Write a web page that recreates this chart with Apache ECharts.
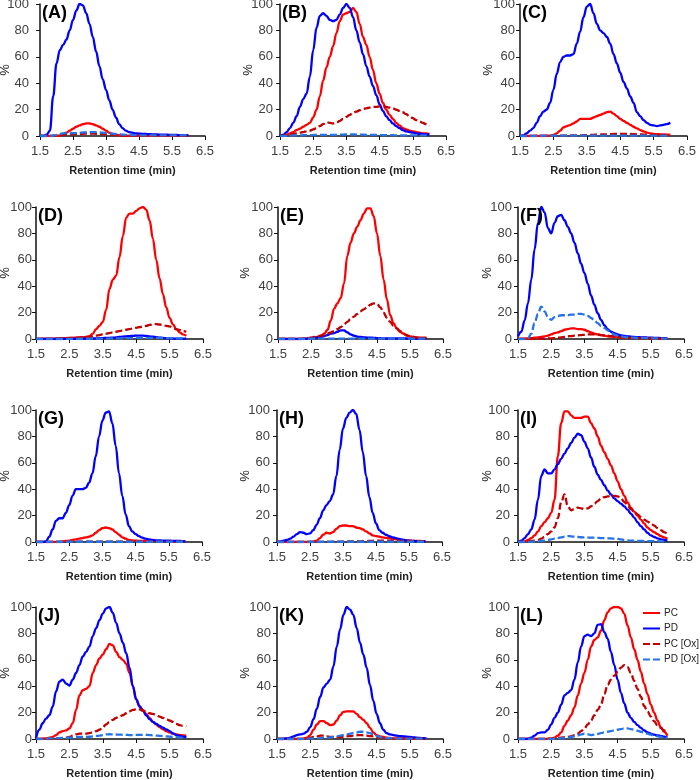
<!DOCTYPE html>
<html><head><meta charset="utf-8">
<script src="https://cdn.jsdelivr.net/npm/echarts@6/dist/echarts.min.js"></script>
<style>html,body{margin:0;padding:0;background:#fff}#c{width:700px;height:780px}</style>
</head><body><div id="c"></div>
<script>
// Retention time grid (min)
const rt = [1.5,1.6,1.7,1.8,1.9,2.0,2.1,2.2,2.3,2.4,2.5,2.6,2.7,2.8,2.9,3.0,3.1,3.2,3.3,3.4,3.5,3.6,3.7,3.8,3.9,4.0,4.1,4.2,4.3,4.4,4.5,4.6,4.7,4.8,4.9,5.0,5.1,5.2,5.3,5.4,5.5,5.6,5.7,5.8,5.9,6.0];
const xTicks = [1.5,2.5,3.5,4.5,5.5,6.5];
const yTicks = [0,20,40,60,80,100];
const seriesNames = ['PC','PD','PC [Ox]','PD [Ox]'];
const panelLabels = ['(A)','(B)','(C)','(D)','(E)','(F)','(G)','(H)','(I)','(J)','(K)','(L)'];

// Panel A
const pcA   = [0,0,0,0,0, 0.2,0.4,1,2.5,4, 5.5,7,8,9,9.5, 9.5,9,8,7,5.5, 4,2.5,1.5,1,0.6, 0.4,0.3,0.3,0.3,0.3, 0.3,0.3,0.3,0.3,0.3, 0.3,0.3,0.3,0.3,0.3, 0.3,0.3,0.3,0.3,0.3, 0.3];
const pdA   = [0,0,1,4,30, 55,65,69,73,80, 88,95,100,99,93, 85,75,64,53,43, 35,27,20,14,9, 6,4,3,2.5,2, 1.8,1.6,1.5,1.4,1.3, 1.2,1.1,1,1,0.9, 0.8,0.8,0.7,0.7,0.6, 0.5];
const pcoxA = [0,0,0,0,0.2, 0.5,0.8,1,1.2,1.3, 1.4,1.5,1.6,1.7,1.8, 1.8,1.8,1.7,1.6,1.5, 1.3,1.1,0.9,0.7,0.5, 0.4,0.3,0.3,0.3,0.3, 0.3,0.3,0.3,0.3,0.3, 0.3,0.3,0.3,0.3,0.3, 0.3,0.3,0.3,0.3,0.3, 0.3];
const pdoxA = [0,0,0,0,0.3, 0.8,1.5,2,2.2,2.2, 2.2,2.3,2.5,2.7,2.9, 3,3,2.9,2.7,2.5, 2.3,2,1.8,1.5,1.3, 1.1,0.9,0.8,0.7,0.6, 0.5,0.5,0.5,0.5,0.5, 0.5,0.5,0.5,0.5,0.5, 0.5,0.5,0.5,0.5,0.5, 0.5];
// Panel B
const pcB   = [0,0,1,2,3, 4.5,5.5,7,8.5,10, 14,20,30,42,52, 60,68,78,87,92, 93,94,97,94,85, 75,69,60,50,40, 32,25,20,16,13, 10,8,6,5,4, 3.5,3,2.5,2,2, 1.5];
const pdB   = [0,1,3,6,10, 15,22,28,32,45, 65,82,91,93,91, 88,87,88,92,97, 100,97,90,80,71, 62,53,45,38,31, 24,19,15,12,9.5, 7.5,6,4.5,3.5,3, 2.5,2,1.7,1.4,1.2, 1];
const pcoxB = [0,0.3,0.6,1,1.5, 2,2.5,3,3.5,4, 5,6,7.5,9,10.5, 10,9.5,10,11.5,13, 14.5,16,17.5,18.5,19.5, 20.5,21,21.5,22,22, 22.5,22.5,22,21.5,21, 20,19,18,16.5,15, 13.5,12,11,10,9, 7.5];
const pdoxB = [0,0,0.2,0.3,0.4, 0.5,0.5,0.6,0.6,0.7, 0.7,0.8,0.8,0.8,0.8, 0.8,0.8,0.9,1,1.1, 1.2,1.2,1.2,1.1,1, 1,0.9,0.9,0.8,0.8, 0.7,0.7,0.6,0.6,0.6, 0.5,0.5,0.5,0.5,0.5, 0.5,0.5,0.5,0.5,0.5, 0.5];
// Panel C
const pcC   = [0,0,0,0,0, 0,0,0,0.2,0.3, 0.8,2,4,6.5,7.5, 8.3,9.6,11,13,13, 13,13,14,15,16, 17,18,18.4,17,15, 13,11.5,10,8.5,7, 5.8,4.5,3.5,2.5,2, 1.6,1.4,1.3,1.2,1.1, 1];
const pdC   = [0,0.5,2,4,6, 10,15,18.5,20,25, 35,47,56,60,61, 61,62,70,79,90, 98,100,93,85,80, 78,75,70,62,55, 48,41,36,30,25, 18,15,12,10,8.5, 8,7.5,8,8.5,9, 10];
const pcoxC = [0,0,0,0,0, 0,0,0,0,0, 0.1,0.2,0.2,0.3,0.3, 0.4,0.4,0.5,0.5,0.6, 0.7,0.8,0.9,1,1.1, 1.2,1.3,1.4,1.5,1.5, 1.5,1.5,1.5,1.5,1.4, 1.3,1.2,1.1,1,0.9, 0.8,0.7,0.7,0.6,0.6, 0.5];
const pdoxC = [0,0,0,0,0.1, 0.2,0.2,0.3,0.3,0.3, 0.3,0.3,0.3,0.3,0.3, 0.3,0.3,0.3,0.3,0.3, 0.3,0.3,0.3,0.3,0.3, 0.3,0.3,0.3,0.3,0.3, 0.3,0.3,0.3,0.3,0.3, 0.3,0.3,0.3,0.3,0.3, 0.3,0.3,0.3,0.3,0.3, 0.3];
// Panel D
const pcD   = [0.1,0.1,0.2,0.2,0.3, 0.3,0.4,0.5,0.6,0.7, 0.8,0.9,1,1.1,1.3, 1.5,2,4,7.5,10, 13,22,38,45,48, 62,78,92,95,95, 97,99,100,98,90, 76,60,46,34,24, 16,11,7.5,5,3.5, 2.5];
const pdD   = [0,0,0,0,0, 0,0,0,0,0.1, 0.1,0.1,0.2,0.2,0.2, 0.3,0.3,0.4,0.5,0.6, 0.7,0.8,0.9,1,1.2, 1.5,1.8,2,2.2,2.4, 2.5,2.5,2.5,2.3,2, 1.7,1.4,1.1,0.8,0.6, 0.5,0.4,0.3,0.3,0.3, 0.3];
const pcoxD = [0,0,0,0,0, 0.2,0.3,0.4,0.5,0.6, 0.7,0.8,1,1.2,1.4, 1.5,1.7,2,2.5,3, 3.5,4,4.5,5,5.5, 6,6.5,7,7.5,8, 8.5,9,9.5,10,10.7, 11.2,11.3,11,10.5,10, 9.5,8.5,7.5,6.8,6, 5.5];
const pdoxD = [0,0,0,0,0, 0,0,0,0,0.1, 0.1,0.1,0.1,0.2,0.2, 0.2,0.2,0.3,0.3,0.3, 0.3,0.3,0.4,0.4,0.5, 0.5,0.6,0.6,0.7,0.7, 0.8,0.8,0.8,0.8,0.8, 0.8,0.8,0.8,0.7,0.7, 0.6,0.5,0.5,0.4,0.4, 0.3];
// Panel E
const pcE   = [0,0,0,0,0, 0,0,0.1,0.2,0.3, 0.5,1,1.5,2.5,4, 7,14,23,27,31, 42,63,73,80,85, 90,95,99,99,93, 80,63,45,30,18, 12,8,5.5,4,2.5, 2,1.5,1.2,1,1, 1];
const pdE   = [0,0,0,0,0, 0,0,0,0,0.5, 0.8,1,1.2,1.5,2.2, 3,4,4.5,5.5,6.5, 6.5,5,3.5,2.5,1.8, 1.5,1.3,1.1,1,0.9, 0.7,0.6,0.5,0.5,0.5, 0.5,0.4,0.4,0.4,0.4, 0.3,0.3,0.3,0.3,0.3, 0.3];
const pcoxE = [0,0,0,0,0, 0,0,0,0.5,0.7, 1,1.5,2,2.5,3, 4,5,6,7.5,9, 11,13,15,17,19, 21,22.5,24,26,27, 26.5,24,20,16,13, 10,8,6,4,3, 2,1.5,1,0.8,0.6, 0.5];
const pdoxE = [0,0,0,0,0, 0,0,0,0.1,0.2, 0.2,0.3,0.3,0.3,0.3, 0.3,0.3,0.3,0.3,0.3, 0.3,0.3,0.3,0.3,0.3, 0.3,0.3,0.3,0.3,0.3, 0.3,0.3,0.3,0.3,0.3, 0.3,0.3,0.3,0.3,0.3, 0.3,0.3,0.3,0.3,0.3, 0.3];
// Panel F
const pcF   = [0,0.2,0.3,0.5,0.7, 1,1.2,1.5,2,2.5, 3.5,4.5,5,6,7, 7.5,8,8,7.5,7.5, 7,6,5,4,3.5, 3,2.5,2,1.8,1.6, 1.5,1.3,1.2,1.1,1, 1,0.9,0.8,0.8,0.7, 0.7,0.6,0.6,0.5,0.5, 0.5];
const pdF   = [2,5.5,14,27,45, 68,88,100,96,84, 80,88,93,94,90, 85,80,73,65,57, 50,42,33,26,19.5, 14.5,10.5,7.5,5.5,4.5, 3.5,2.8,2.3,2,1.8, 1.5,1.4,1.3,1.2,1.1, 1,0.9,0.8,0.7,0.6, 0.5];
const pcoxF = [0,0,0,0,0, 0,0,0.2,0.3,0.4, 0.5,0.7,1,1.2,1.5, 2,2.2,2.5,2.7,3, 3.2,3.5,3.5,3.5,3.3, 3,2.8,2.5,2.2,2, 1.5,1.3,1.1,1,0.8, 0.7,0.6,0.6,0.5,0.5, 0.5,0.4,0.4,0.3,0.3, 0.3];
const pdoxF = [0,0,0,0.5,4, 12,19,24.5,21,16.5, 14.5,16.5,17.5,18,18, 18,18.5,18.5,19,19, 18.5,17.5,16,14,12, 10,8.5,6.5,4.5,3.5, 2.5,2,1.5,1.2,1, 1,0.9,0.8,0.7,0.6, 0.5,0.5,0.4,0.4,0.3, 0.3];
// Panel G
const pcG   = [0,0,0,0,0, 0,0,0,0.5,0.8, 1,1.5,2,2.5,3, 3.5,4,5,7,9, 10.5,11,10.5,9.5,7.5, 5.5,3.5,2.5,1.5,1.2, 1,0.9,0.9,0.8,0.8, 0.8,0.7,0.7,0.7,0.6, 0.6,0.6,0.5,0.5,0.5, 0.5];
const pdG   = [0,0,0,0.5,4, 9.5,16,18,18,22, 28,35,40,40,40, 41,45,52,65,80, 92,98,99,90,73, 52,35,21,12,8, 6,4.5,3.3,2.5,2, 1.5,1.3,1.2,1.1,1.1, 1,0.9,0.9,0.8,0.7, 0.5];
const pcoxG = [0,0,0,0,0, 0,0,0,0,0.1, 0.1,0.1,0.2,0.2,0.2, 0.3,0.3,0.3,0.3,0.3, 0.3,0.3,0.3,0.3,0.3, 0.3,0.3,0.3,0.3,0.3, 0.3,0.3,0.3,0.3,0.3, 0.3,0.3,0.3,0.3,0.3, 0.3,0.3,0.3,0.3,0.3, 0.3];
const pdoxG = [0,0,0,0,0.1, 0.2,0.2,0.2,0.2,0.2, 0.2,0.2,0.2,0.2,0.2, 0.2,0.2,0.2,0.2,0.2, 0.2,0.2,0.2,0.2,0.2, 0.2,0.2,0.2,0.2,0.2, 0.2,0.2,0.2,0.2,0.2, 0.2,0.2,0.2,0.2,0.2, 0.2,0.2,0.2,0.2,0.2, 0.2];
// Panel H
const pcH   = [0,0,0,0,0, 0,0,0,0,0, 0,0.3,1,3,5.5, 7,6.5,7.5,10,12, 12.5,12.5,12,12,11, 10.5,9.5,8,6.5,5, 4.5,4,3.5,3.2,3, 2.5,2,1.5,1.2,1.1, 1,0.9,0.8,0.8,0.7, 0.7];
const pdH   = [0,0.3,1,1.5,2.5, 4,6,7.5,7,6, 6.5,9,13,18,24, 28,31,36,50,70, 86,94,98,100,97, 85,68,50,34,22, 14,9,7,5.5,4.5, 3.5,3,2.3,1.8,1.3, 1,0.8,0.7,0.6,0.5, 0.5];
const pcoxH = [0,0,0,0,0, 0,0,0,0,0, 0,0,0,0,0.1, 0.1,0.1,0.2,0.2,0.2, 0.3,0.3,0.4,0.4,0.5, 0.5,0.6,0.7,0.8,0.9, 1,1,1,1,1, 1,1,0.9,0.9,0.8, 0.8,0.7,0.7,0.6,0.6, 0.5];
const pdoxH = [0,0,0,0,0, 0,0,0,0.1,0.1, 0.2,0.2,0.2,0.2,0.2, 0.2,0.2,0.2,0.2,0.2, 0.2,0.2,0.2,0.2,0.2, 0.2,0.2,0.2,0.2,0.2, 0.2,0.2,0.2,0.2,0.2, 0.2,0.2,0.2,0.2,0.2, 0.2,0.2,0.2,0.2,0.2, 0.2];
// Panel I
const pcI   = [0,0,0.5,1.5,3, 5,8,12,15,18, 22,32,65,90,99, 99,96,94,94,94, 95,95,90,86,80, 73,68,63,58,52, 46,40,35,30,26, 23,20,17,14,11, 9,7.5,6,4.5,3.5, 2.5];
const pdI   = [0,1,3,6,9.5, 17,32,50,55,52, 52,55,59,63,67, 71,75,79,82,81, 76,71,64,57,51, 47,43,39,36,33, 31,29,27,24.5,21.5, 18.5,15,12,9.5,7, 5,3.8,2.8,2,1.5, 1];
const pcoxI = [0,0,0,0.5,0.8, 1,1.5,2.5,4,6, 8,11,18,30,36, 27,24,25,26,25.5, 25,25.5,27,29,31, 33,34,34.5,34.5,35, 34.5,33,30.5,27.5,25, 23,21,19,17,15.5, 14,12.5,10.5,9,7.5, 6];
const pdoxI = [0,0,0,0,0.2, 0.5,0.7,0.9,1,1.5, 2,2.5,3,3.5,4, 4.5,4.3,4,3.8,3.6, 3.5,3.4,3.3,3.3,3.2, 3,2.9,2.8,2.7,2.5, 2.3,2,1.5,1.2,1, 1,0.9,0.8,0.7,0.7, 0.7,0.6,0.6,0.5,0.5, 0.5];
// Panel J
const pcJ   = [0,0,0.3,0.5,1, 1.5,3,5,6,6.5, 8,12,22,33,37, 38,40,50,56,61, 64,68,72,71,66, 62,60,57,50,40, 30,25,22,19,16, 13,11,9,7.5,6, 5,4,3.5,3,2.7, 2.5];
const pdJ   = [0.5,7,12,15.5,18, 24.5,36,43.5,45,42, 40.5,45,50,56,62.5, 66,70,78,84,90, 95,99,100,95.5,88, 80,73,65,54,40, 30,24.5,21.5,18,15, 13,11.4,10,8.6,7.3, 6,4.3,3,2.3,1.8, 1.3];
const pcoxJ = [0,0,0,0,0, 0,0,0.2,0.5,1, 1.5,2.5,3.5,4,4, 4,4.5,5,6,7, 9,11,13,14.5,16, 17,18,19.5,21,22, 22.5,22.5,21.5,20.5,19.5, 19,18,17,16,15, 14,13,11.5,10.5,10, 9.5];
const pdoxJ = [0,0,0.2,0.3,0.4, 0.5,0.6,0.7,0.8,0.9, 1,1.2,1.4,1.5,1.5, 1.5,1.7,2,2.3,2.5, 3,3.5,3.6,3.5,3.4, 3.3,3.2,3.1,3,3, 3.1,3.2,3.2,3.1,3, 2.8,2.6,2.4,2.2,2, 1.8,1.6,1.4,1.2,1, 0.8];
// Panel K
const pcK   = [0,0,0,0,0, 0,0,0,0.3,1, 3,7,11,13.5,13.5, 12,10.5,11,14,18, 20.5,21,21,21,19, 16.5,14.5,12,8.5,5, 3,2,1.5,1,0.8, 0.5,0.5,0.4,0.4,0.4, 0.3,0.3,0.3,0.3,0.3, 0.3];
const pdK   = [0,0,0.3,0.5,1, 2,3,3.5,4,5.5, 9,15,23,32,39, 42,45,55,70,83, 94,100,98,94,84, 73,64,54,41,29, 19,12,7,4.5,3.5, 3,2.5,2.2,2,1.8, 1.5,1.3,1,0.8,0.6, 0.5];
const pcoxK = [0,0,0,0,0, 0,0,0,0,0.5, 1,1.5,2,2.5,2.5, 2,1.5,1.5,1.5,1.5, 1.5,2,2.2,2.5,2.8, 3,2.8,2.5,2.2,2, 1.5,1,0.7,0.5,0.4, 0.3,0.3,0.3,0.3,0.3, 0.3,0.3,0.3,0.3,0.3, 0.3];
const pdoxK = [0,0,0,0,0, 0,0,0,0.1,0.2, 0.3,0.4,0.5,0.6,0.8, 1,1.2,1.5,2,2.5, 3,3.5,4,4.5,5, 5.5,5.5,5,4.5,3.5, 2.5,1.5,1,0.8,0.6, 0.5,0.4,0.3,0.3,0.3, 0.3,0.3,0.3,0.3,0.3, 0.3];
// Panel L
const pcL   = [0,0,0,0,0, 0,0,0,0,0.3, 0.5,1,2.5,5,10, 14,18,24,33,42, 50,60,70,75,77, 82,90,96,99,100, 100,99,95,86,77, 68,60,51,42,34, 26,20,14,9,5.5, 2.5];
const pdL   = [0,0,0,0.3,1, 2.5,4.5,5,5,7, 11,16,20,26,33, 35,37,45,58,70, 78,79,78,80,86.5, 87,81,76,66,56, 45,35,27,20,16, 13,10.5,8.5,6.5,5, 4,3.3,2.8,2.3,1.8, 1.2];
const pcoxL = [0,0,0,0,0, 0,0,0,0,0, 0,0.3,0.6,1,1.3, 1.5,2,3,4,6, 8,11,14,18,22, 26,34,41,45,48, 51,54,56,54.5,50, 44,38,32,25,21, 17,13.5,10.5,8.5,6.5, 5];
const pdoxL = [0,0,0,0,0, 0,0,0,0,0, 0,0.2,0.3,0.5,0.7, 1,1.5,2,2.7,3.5, 4,3.5,3,3.3,3.8, 4.5,5,5.5,6,6.5, 7,7.5,8,8,7.5, 7,6.3,5.5,4.7,4, 3.3,2.5,2,1.5,1.2, 1];

const panelData = [
  [pcA,pdA,pcoxA,pdoxA],[pcB,pdB,pcoxB,pdoxB],[pcC,pdC,pcoxC,pdoxC],
  [pcD,pdD,pcoxD,pdoxD],[pcE,pdE,pcoxE,pdoxE],[pcF,pdF,pcoxF,pdoxF],
  [pcG,pdG,pcoxG,pdoxG],[pcH,pdH,pcoxH,pdoxH],[pcI,pdI,pcoxI,pdoxI],
  [pcJ,pdJ,pcoxJ,pdoxJ],[pcK,pdK,pcoxK,pdoxK],[pcL,pdL,pcoxL,pdoxL]
];

// Layout (pixels): plot left/top/width, tick-label margin, y-name gap (to name centre)
const layout = [
  {l:40,t:4,w:165,m:11,g:35},{l:280,t:4,w:166,m:7,g:32},{l:520,t:4,w:167,m:5,g:32},
  {l:36,t:207,w:167,m:4,g:31},{l:278,t:207,w:165,m:5,g:33},{l:518,t:207,w:166,m:6,g:31},
  {l:36,t:410,w:166,m:4,g:31},{l:277,t:410,w:165,m:7,g:32},{l:518,t:410,w:166,m:8,g:31},
  {l:36,t:607,w:167,m:4,g:31},{l:277,t:607,w:166,m:6,g:32},{l:518,t:607,w:166,m:8,g:31}
];
const plotH = 132;
const styles = [
  {color:'#FF0000', type:'solid'},
  {color:'#0000FF', type:'solid'},
  {color:'#C00000', type:[7,3]},
  {color:'#2673E8', type:[7,3]}
];
const FONT = 'Liberation Sans, Arial, sans-serif';

const grid=[], xAxis=[], yAxis=[], series=[], title=[];
layout.forEach((p,i)=>{
  grid.push({left:p.l, top:p.t, width:p.w, height:plotH, containLabel:false, outerBoundsMode:'none'});
  xAxis.push({type:'value', gridIndex:i, min:1.5, max:6.5, interval:1,
    name:'Retention time (min)', nameLocation:'middle', nameGap:29, nameMoveOverlap:false,
    nameTextStyle:{fontFamily:FONT, fontWeight:'bold', fontSize:11, color:'#222'},
    axisLine:{show:true, onZero:false, lineStyle:{color:'#111', width:1.5}},
    axisTick:{show:true, length:4, lineStyle:{color:'#111'}},
    axisLabel:{fontFamily:FONT, fontSize:13, color:'#404040', margin:9,
      formatter:v=>xTicks.includes(Math.round(v*10)/10)?v.toFixed(1):''},
    splitLine:{show:false}});
  yAxis.push({type:'value', gridIndex:i, min:0, max:100, interval:20,
    name:'%', nameLocation:'middle', nameGap:p.g, nameRotate:90, nameMoveOverlap:false,
    nameTextStyle:{fontFamily:FONT, fontSize:13, color:'#222', align:'center', verticalAlign:'middle'},
    axisLine:{show:true, lineStyle:{color:'#111', width:1.5}},
    axisTick:{show:true, length:4, lineStyle:{color:'#111'}},
    axisLabel:{fontFamily:FONT, fontSize:13, color:'#404040', margin:p.m,
      formatter:v=>yTicks.includes(v)?String(v):''},
    splitLine:{show:false}});
  title.push({text:panelLabels[i], left:p.l+2, top:p.t, padding:0,
    textStyle:{fontFamily:FONT, fontWeight:'bold', fontSize:18, color:'#000'}});
  panelData[i].forEach((arr,k)=>{
    series.push({type:'line', name:seriesNames[k], xAxisIndex:i, yAxisIndex:i,
      data: rt.map((x,j)=>[x,arr[j]]), showSymbol:false, symbol:'none',
      smooth:0.4, smoothMonotone:'x', silent:true,
      lineStyle:{color:styles[k].color, width:2.3, type:styles[k].type},
      itemStyle:{color:styles[k].color}, z:2+k});
  });
});

const chart = echarts.init(document.getElementById('c'), null, {renderer:'canvas'});
chart.setOption({
  animation:false, backgroundColor:'#fff',
  title, grid, xAxis, yAxis, series,
  legend:{data:seriesNames, orient:'vertical', left:642, top:608,
    itemWidth:17, itemHeight:10, itemGap:5.5, padding:0,
    itemStyle:{color:'rgba(0,0,0,0)', borderWidth:0, opacity:0},
    textStyle:{fontFamily:FONT, fontSize:10, color:'#222', padding:[0,0,0,-1]}}
});
</script></body></html>
